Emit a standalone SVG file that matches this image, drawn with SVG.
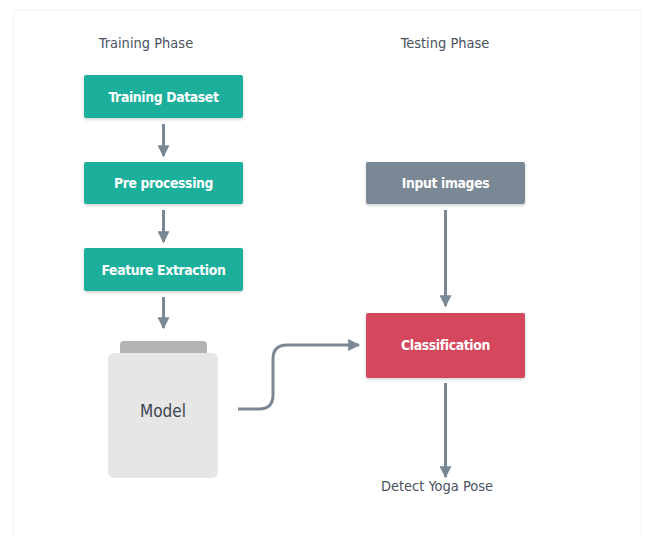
<svg xmlns="http://www.w3.org/2000/svg" width="645" height="536" viewBox="0 0 645 536">
  <defs>
    <filter id="shadow" x="-10%" y="-20%" width="120%" height="150%">
      <feDropShadow dx="0" dy="1.5" stdDeviation="1.5" flood-color="#000" flood-opacity="0.18"/>
    </filter>
    <marker id="arrow" viewBox="0 0 10 10" refX="9" refY="5" markerWidth="4" markerHeight="4" orient="auto" markerUnits="strokeWidth">
      <path d="M0,0 L10,5 L0,10 z" fill="#7a8896"/>
    </marker>
  </defs>
  <style>
    text { font-family: "DejaVu Sans Condensed", "Liberation Sans Narrow", "Roboto", sans-serif; text-anchor: middle; }
    .title { font-size: 14.5px; fill: #4a5260; }
    .label { font-size: 13.8px; fill: #ffffff; font-weight: bold; letter-spacing: -0.35px; }
    .teal { fill: #1aaf9c; }
    .conn { fill: none; stroke: #7a8896; stroke-width: 3; marker-end: url(#arrow); }
  </style>

  <rect x="0" y="0" width="645" height="536" fill="#ffffff"/>
  <!-- card -->
  <rect x="13.5" y="10.5" width="628" height="540" rx="3" fill="#ffffff" stroke="#f2f2f2" stroke-width="1"/>

  <text class="title" x="146" y="48">Training Phase</text>
  <text class="title" x="445" y="48">Testing Phase</text>

  <g id="training-dataset">
    <rect class="teal" x="84" y="75" width="159" height="43" rx="2" filter="url(#shadow)"/>
    <text class="label" x="163.5" y="101.5">Training Dataset</text>
  </g>
  <g id="pre-processing">
    <rect class="teal" x="84" y="162" width="159" height="42" rx="2" filter="url(#shadow)"/>
    <text class="label" x="163.5" y="188">Pre processing</text>
  </g>
  <g id="feature-extraction">
    <rect class="teal" x="84" y="248" width="159" height="43" rx="2" filter="url(#shadow)"/>
    <text class="label" x="163.5" y="274.5">Feature Extraction</text>
  </g>
  <g id="model">
    <rect x="120" y="341" width="87" height="16" rx="4" fill="#b3b3b3"/>
    <rect x="108" y="353" width="110" height="125" rx="6" fill="#e6e6e6"/>
    <text x="163" y="417" font-size="17" fill="#3d4451">Model</text>
  </g>
  <g id="input-images">
    <rect x="366" y="162" width="159" height="42" rx="2" fill="#7a8896" filter="url(#shadow)"/>
    <text class="label" x="445.5" y="188">Input images</text>
  </g>
  <g id="classification">
    <rect x="366" y="313" width="159" height="65" rx="2" fill="#d4465c" filter="url(#shadow)"/>
    <text class="label" x="445.5" y="350">Classification</text>
  </g>
  <g id="detect-yoga-pose">
    <text class="title" x="437" y="491">Detect Yoga Pose</text>
  </g>

  <g id="connectors">
    <line class="conn" x1="163.5" y1="124" x2="163.5" y2="156"/>
    <line class="conn" x1="163.5" y1="210" x2="163.5" y2="242"/>
    <line class="conn" x1="163.5" y1="297" x2="163.5" y2="328"/>
    <path class="conn" d="M238,409 H259 Q273,409 273,395 V359 Q273,345 287,345 H359"/>
    <line class="conn" x1="445.5" y1="210" x2="445.5" y2="306"/>
    <line class="conn" x1="445.5" y1="383" x2="445.5" y2="477"/>
  </g>
</svg>
